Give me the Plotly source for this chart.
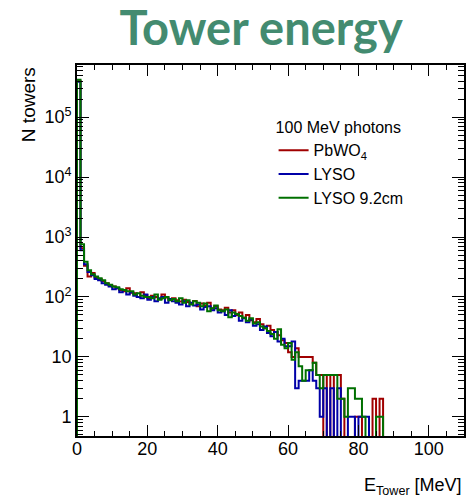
import numpy as np
import plotly.graph_objects as go

# bin lower edges (1 MeV bins, 0..110 MeV)
bin_edges = list(range(0, 111))

pbwo4 = [400000, 650, 330, 220, 250, 210, 200, 185, 170, 155,
         150, 140, 130, 125, 140, 118, 115, 100, 120, 108,
         95, 105, 100, 92, 110, 98, 90, 95, 88, 84,
         90, 82, 78, 86, 70, 78, 72, 80, 64, 70,
         62, 60, 66, 55, 60, 50, 55, 45, 50, 41,
         38, 43, 35, 30, 33, 28, 26, 23, 19, 17,
         12, 10, 14, 10, 10, 10, 10, 8, 5, 5,
         0, 5, 0, 5, 5, 2, 0, 0, 0, 1,
         1, 0, 0, 0, 2, 0, 2, 0, 0, 0] + [0] * 20

lyso = [390000, 600, 350, 260, 230, 200, 190, 170, 160, 150,
        135, 140, 120, 130, 110, 120, 105, 100, 95, 110,
        90, 100, 85, 95, 100, 80, 92, 85, 80, 75,
        85, 70, 80, 72, 75, 62, 68, 70, 60, 65,
        55, 58, 50, 60, 48, 52, 40, 44, 38, 42,
        33, 35, 28, 32, 25, 22, 26, 18, 20, 15,
        15, 18, 3, 4, 4, 4, 6, 4, 3, 1,
        3, 0, 3, 0, 3, 0, 0, 1, 1, 0,
        1, 1, 1, 0, 0, 0, 0, 0, 0, 0] + [0] * 20

lyso92 = [420000, 760, 385, 280, 240, 220, 205, 190, 170, 160,
          150, 145, 135, 130, 125, 125, 110, 115, 105, 100,
          100, 95, 110, 90, 95, 100, 88, 92, 85, 95,
          80, 88, 75, 85, 80, 70, 78, 58, 65, 72,
          60, 58, 62, 46, 55, 52, 48, 45, 40, 44,
          36, 38, 32, 30, 27, 24, 20, 29, 16, 14,
          17, 9, 12, 7, 4, 6, 6, 8, 5, 3,
          5, 5, 5, 5, 2, 2, 1, 3, 3, 2,
          2, 1, 0, 0, 0, 1, 1, 0, 0, 0] + [0] * 20

series_names = ["PbWO<sub>4</sub>", "LYSO", "LYSO 9.2cm"]
series_values = [pbwo4, lyso, lyso92]
series_colors = ["#a00000", "#0000a8", "#007000"]

ytick_vals = [1, 10, 100, 1000, 10000, 100000]
ytick_text = ["1", "10", "10<sup>2</sup>", "10<sup>3</sup>", "10<sup>4</sup>", "10<sup>5</sup>"]
xtick_vals = [0, 20, 40, 60, 80, 100]

FLOOR = 0.05  # empty bins are drawn down to the axis floor

fig = go.Figure()
for name, vals, col in zip(series_names, series_values, series_colors):
    v = np.array(vals, dtype=float)
    v = np.where(v > 0, v, FLOOR)
    xs = [bin_edges[0]] + bin_edges
    ys = [FLOOR] + list(v) + [v[-1]]
    fig.add_trace(go.Scatter(x=xs, y=ys, mode="lines", name=name,
                             line=dict(color=col, width=2, shape="hv")))

font = "Liberation Sans, Arial, sans-serif"
fig.update_layout(
    width=468, height=500,
    margin=dict(l=77, r=2, t=65, b=64),
    paper_bgcolor="white", plot_bgcolor="white",
    showlegend=True,
    legend=dict(x=0.508, y=0.872, xanchor="left", yanchor="top",
                bgcolor="rgba(0,0,0,0)",
                font=dict(family=font, size=16, color="black"),
                title=dict(text="100 MeV photons", font=dict(family=font, size=16, color="black")),
                tracegroupgap=0, itemwidth=30),
    title=dict(text="<b>Tower energy</b>", x=0.558, xanchor="center", y=0.942, yanchor="middle",
               xref="container", yref="container",
               font=dict(family="Lato, Open Sans, sans-serif", size=47, color="#438b70")),
    xaxis=dict(range=[0, 110], tickvals=xtick_vals, ticks="inside", ticklen=11, tickwidth=1.2,
               tickcolor="black", showline=True, linecolor="black", linewidth=1.8, mirror="allticks",
               showgrid=False, zeroline=False, ticklabelstandoff=-5,
               tickfont=dict(family=font, size=18, color="black"),
               minor=dict(dtick=5, ticks="inside", ticklen=5, tickcolor="black", tickwidth=1, showgrid=False)),
    yaxis=dict(type="log", range=[-0.32, 5.87], tickvals=ytick_vals, ticktext=ytick_text,
               ticks="inside", ticklen=12, tickwidth=1.2, tickcolor="black",
               showline=True, linecolor="black", linewidth=1.8, mirror="allticks",
               showgrid=False, zeroline=False,
               tickfont=dict(family=font, size=18, color="black"),
               minor=dict(dtick="D1", ticks="inside", ticklen=6, tickcolor="black", tickwidth=1, showgrid=False)),
    annotations=[
        dict(text="N towers", textangle=-90, xref="paper", yref="paper", x=-0.125, y=1.0,
             xanchor="center", yanchor="top", showarrow=False,
             font=dict(family=font, size=19, color="black")),
        dict(text="E<sub>Tower</sub> [MeV]", xref="paper", yref="paper", x=1.0, y=-0.135,
             xanchor="right", yanchor="middle", showarrow=False,
             font=dict(family=font, size=18, color="black")),
    ],
)

fig.write_html("out.html", config={"displayModeBar": False},
               post_script="document.body.style.margin='0';")
